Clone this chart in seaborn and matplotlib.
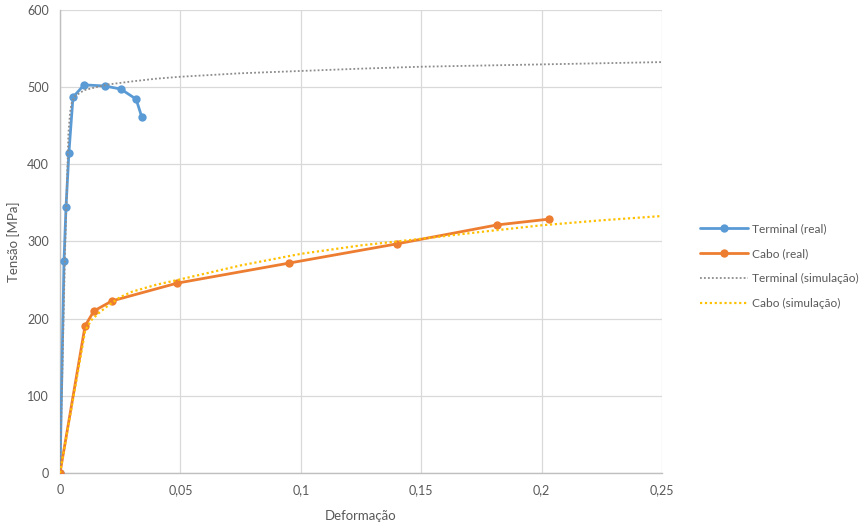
import matplotlib
matplotlib.use("Agg")
import matplotlib.pyplot as plt
import seaborn as sns
import pandas as pd

# ---- data ----
terminal_real_x = [0.0, 0.00166, 0.0025, 0.0037, 0.0054, 0.0100, 0.0187, 0.0253, 0.0316, 0.0340]
terminal_real_y = [0, 275, 345, 415, 487, 503, 501.5, 497.5, 484.5, 461]

cabo_real_x = [0.0, 0.0104, 0.0141, 0.0216, 0.0486, 0.0951, 0.1400, 0.1815, 0.2031]
cabo_real_y = [0, 190.5, 210, 223, 246, 272, 297, 321.5, 329]

terminal_sim_x = [0.0, 0.0022, 0.0035, 0.0042, 0.0050, 0.0065, 0.0100, 0.0150, 0.0200,
                  0.0300, 0.0400, 0.0500, 0.0750, 0.1000, 0.1250, 0.1500, 0.1750,
                  0.2000, 0.2250, 0.2500]
terminal_sim_y = [0, 300, 440, 468, 482, 489, 496, 500, 503.5, 507.5, 511, 513.5,
                  518, 521, 524, 526.5, 528, 529.5, 531, 532.5]

cabo_sim_x = [0.0, 0.0105, 0.0130, 0.0160, 0.0200, 0.0250, 0.0300, 0.0400, 0.0500,
              0.0750, 0.1000, 0.1250, 0.1500, 0.1750, 0.2000, 0.2250, 0.2500]
cabo_sim_y = [0, 185, 198, 207, 217, 228, 235, 244, 251, 269, 284, 295,
              303.5, 312.5, 321, 327.5, 333]

x_ticks = [0, 0.05, 0.1, 0.15, 0.2, 0.25]
x_tick_labels = ["0", "0,05", "0,1", "0,15", "0,2", "0,25"]
y_ticks = [0, 100, 200, 300, 400, 500, 600]
y_tick_labels = ["0", "100", "200", "300", "400", "500", "600"]

series_labels = ["Terminal (real)", "Cabo (real)", "Terminal (simulação)", "Cabo (simulação)"]

# ---- plotting ----
sns.set_theme(style="white")
plt.rcParams["font.family"] = ["Lato", "DejaVu Sans"]

fig = plt.figure(figsize=(8.66, 5.27), dpi=100)
ax = fig.add_axes([60 / 866, 1 - 473 / 527, (662 - 60) / 866, (473 - 10) / 527])

blue = "#5B9BD5"
orange = "#ED7D31"
grey = "#8C8C8C"
yellow = "#FFC000"

sns.lineplot(x=terminal_real_x, y=terminal_real_y, ax=ax, sort=False, color=blue,
             linewidth=2, marker="o", markersize=6, markeredgewidth=0,
             label=series_labels[0], zorder=4)
sns.lineplot(x=cabo_real_x, y=cabo_real_y, ax=ax, sort=False, color=orange,
             linewidth=2, marker="o", markersize=6, markeredgewidth=0,
             label=series_labels[1], zorder=4)
sns.lineplot(x=terminal_sim_x, y=terminal_sim_y, ax=ax, sort=False, color=grey,
             linewidth=1.3, linestyle=(0, (1, 1.2)), label=series_labels[2], zorder=5)
sns.lineplot(x=cabo_sim_x, y=cabo_sim_y, ax=ax, sort=False, color=yellow,
             linewidth=1.6, linestyle=(0, (1, 1.2)), label=series_labels[3], zorder=5)

ax.set_xlim(0, 0.25)
ax.set_ylim(0, 600)
ax.set_xticks(x_ticks)
ax.set_xticklabels(x_tick_labels)
ax.set_yticks(y_ticks)
ax.set_yticklabels(y_tick_labels)

ax.grid(True, color="#D9D9D9", linewidth=0.9)
ax.set_axisbelow(True)
for s in ["top", "right"]:
    ax.spines[s].set_visible(False)
for s in ["left", "bottom"]:
    ax.spines[s].set_color("#BFBFBF")
    ax.spines[s].set_linewidth(1)
    ax.spines[s].set_zorder(1)

ax.tick_params(axis="both", length=0, labelsize=9, colors="#595959", pad=8)
ax.set_xlabel("Deformação", fontsize=9.5, color="#595959", labelpad=10)
ax.set_ylabel("Tensão [MPa]", fontsize=9.5, color="#595959", labelpad=5)

leg = ax.legend(loc="center left", bbox_to_anchor=(1.045, 0.447), frameon=False,
                fontsize=8.6, handlelength=4.0, labelspacing=1.17, handletextpad=0.4)
for t in leg.get_texts():
    t.set_color("#595959")

fig.savefig("out.png", dpi=100)
